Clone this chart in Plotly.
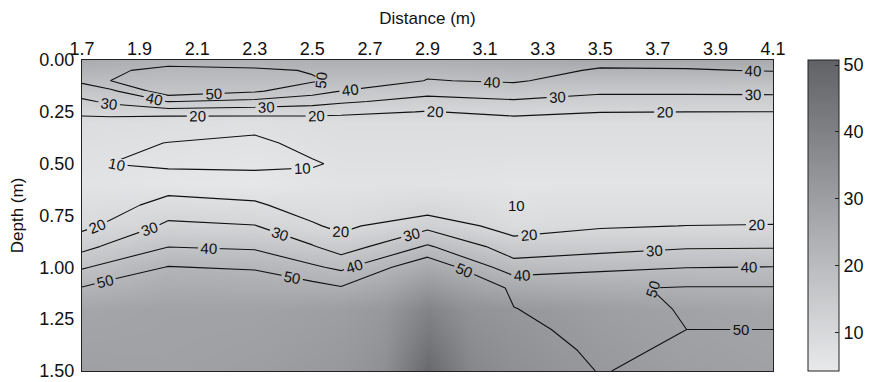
import plotly.graph_objects as go

# ---- contour data (field values on a rectilinear grid) ----
distance = [1.7, 1.8, 2.0, 2.3, 2.5, 2.6, 2.9, 3.2, 3.5, 3.8, 4.1]
depth = [0, 0.05, 0.1, 0.15, 0.2, 0.25, 0.3, 0.4, 0.5, 0.6, 0.7, 0.8, 0.9, 1.0, 1.1, 1.2, 1.3, 1.4, 1.5]

col_1_7 = [45, 44, 42, 34, 28.5, 22, 17, 12.5, 10.8, 11.5, 13.5, 17.5, 26.8, 39, 50.6, 52, 52.5, 53, 53]
col_1_8 = [46, 48, 50.05, 37.8, 31.5, 25.3, 14, 11, 9.98, 11, 15.5, 21.9, 32, 43, 54.7, 55, 55, 55, 55]
col_2_0 = [44.5, 53.7, 58, 56.7, 40.3, 25, 13, 9.9, 8.4, 14.8, 24.4, 31.9, 39.8, 50.5, 55, 56, 56, 56, 56]
col_2_3 = [43, 52, 56, 51.2, 37.5, 24.1, 13.9, 7.6, 7.8, 14.6, 21.4, 30.4, 38.4, 48.7, 58.7, 59, 59, 59, 59]
col_2_5 = [47.5, 49.3, 51, 44, 34, 24, 14, 13.3, 9.0, 14, 15.5, 21.1, 30.8, 41.6, 54, 56, 56, 56, 56]
col_2_6 = [46, 47.5, 48.5, 39.8, 31.5, 23, 14, 13, 11.5, 12.5, 15, 17.8, 24.8, 37.9, 51.0, 54, 55, 56, 56]
col_2_9 = [44, 42, 39.6, 33.3, 26.5, 19.5, 14, 12.5, 12, 12.5, 13.3, 27.2, 41.2, 58.5, 59, 59, 59, 59, 59]
col_3_2 = [45, 43, 41, 35.5, 28.8, 22.8, 16, 13, 12, 12, 13.5, 15.4, 24.7, 34.0, 49.0, 50.1, 51.15, 53.6, 55]
col_3_5 = [42.5, 39.2, 35.5, 31.5, 26.5, 20.3, 14, 12.5, 12, 12.5, 15, 19.1, 26.3, 37.6, 49.1, 48, 48.5, 48.7, 49.7]
col_3_8 = [42, 39.6, 36, 31.6, 26.5, 20, 14, 12.5, 12, 12.5, 15, 20.1, 28.9, 39.8, 50.65, 50.4, 50.0, 51, 51.95]
col_4_1 = [42, 40.3, 36.5, 31.8, 26.6, 19.9, 14, 12.5, 12, 12.5, 15, 20.4, 29.1, 40.3, 50.65, 50.4, 50.0, 51, 51.5]

value_columns = [col_1_7, col_1_8, col_2_0, col_2_3, col_2_5, col_2_6,
                 col_2_9, col_3_2, col_3_5, col_3_8, col_4_1]
z_values = [[col[i] for col in value_columns] for i in range(len(depth))]

# ---- background shading as read from the grey levels ----
shade_distance = [1.7, 2.0, 2.3, 2.6, 2.75, 2.9, 3.05, 3.2, 3.5, 3.8, 4.1]
shade_depth = [0, 0.15, 0.3, 0.6, 0.8, 1.0, 1.2, 1.5]
shade_0_00 = [25.5, 23.5, 23.5, 24.5, 24.5, 24.5, 25, 25.5, 26.5, 26.5, 25.5]
shade_0_15 = [16.5, 17, 17, 16, 15.8, 15.5, 15.8, 16, 15.5, 15.5, 15.5]
shade_0_30 = [8.5, 8, 7.5, 8.5, 8.5, 8.5, 8.5, 8.5, 8.5, 8.5, 8.5]
shade_0_60 = [6.5, 5.5, 5, 6.5, 6.5, 6.5, 6.3, 6, 6, 6, 6]
shade_0_80 = [9.5, 12, 11.5, 9.5, 11, 13, 11, 9, 9.5, 9.5, 9.5]
shade_1_00 = [17.5, 22.5, 22, 19.5, 22, 26, 23, 20, 19.5, 19.5, 19.5]
shade_1_20 = [27.5, 28.5, 28.5, 30, 32, 39, 34, 32.5, 30, 28.5, 27.5]
shade_1_50 = [29.5, 29, 30, 32, 35, 48.5, 38, 35, 32, 30, 29]
shade_rows = [shade_0_00, shade_0_15, shade_0_30, shade_0_60,
              shade_0_80, shade_1_00, shade_1_20, shade_1_50]

color_min = 4.3
color_max = 50.75
# drawn levels are 10..50; the level list runs on (to 690) only so that
# plotly spaces several labels along each line, levels above the data draw nothing
level_start = 10
level_step = 10
level_end = 690

x_ticks = [1.7, 1.9, 2.1, 2.3, 2.5, 2.7, 2.9, 3.1, 3.3, 3.5, 3.7, 3.9, 4.1]
x_tick_labels = ["1.7", "1.9", "2.1", "2.3", "2.5", "2.7", "2.9", "3.1", "3.3", "3.5", "3.7", "3.9", "4.1"]
y_ticks = [0, 0.25, 0.5, 0.75, 1.0, 1.25, 1.5]
y_tick_labels = ["0.00", "0.25", "0.50", "0.75", "1.00", "1.25", "1.50"]
cbar_ticks = [10, 20, 30, 40, 50]

FONT = "Liberation Sans, Arial, Helvetica, sans-serif"
grey_scale = [[0, "rgb(232,233,235)"], [1, "rgb(96,98,102)"]]

fig = go.Figure()
fig.add_trace(go.Heatmap(
    x=shade_distance, y=shade_depth, z=shade_rows,
    zsmooth="best", zmin=color_min, zmax=color_max,
    colorscale=grey_scale, hoverinfo="skip",
    colorbar=dict(
        x=1.0507, xanchor="left", xpad=0, ypad=0,
        y=0.5, yanchor="middle", len=1, lenmode="fraction",
        thickness=31, thicknessmode="pixels",
        outlinewidth=1, outlinecolor="#222",
        tickvals=cbar_ticks, ticks="inside", ticklen=4, tickcolor="#222",
        tickfont=dict(family=FONT, size=18, color="#111"),
    ),
))
fig.add_trace(go.Contour(
    x=distance, y=depth, z=z_values,
    autocontour=False,
    contours=dict(start=level_start, end=level_end, size=level_step,
                  coloring="none", showlabels=True,
                  labelfont=dict(family=FONT, size=15, color="#111")),
    line=dict(color="#111", width=1.1, smoothing=0),
    showscale=False, hoverinfo="skip",
))

fig.add_annotation(x=3.21, y=0.7, text="10", showarrow=False,
                   font=dict(family=FONT, size=15, color="#111"))

# the page body adds an 8 px margin, so the figure is 8 px smaller than the window
fig.update_layout(
    width=864, height=374,
    margin=dict(l=74, r=99, t=52, b=11, autoexpand=False),
    paper_bgcolor="white", plot_bgcolor="white",
    font=dict(family=FONT, color="#111"),
    showlegend=False,
    xaxis=dict(side="top", range=[1.7, 4.1], tickvals=x_ticks, ticktext=x_tick_labels,
               showgrid=False, zeroline=False, showline=True, mirror=True,
               linecolor="#222", linewidth=1, ticks="", automargin=False,
               ticklabelstandoff=-3,
               tickfont=dict(family=FONT, size=18, color="#111"),
               title=dict(text="Distance (m)", font=dict(family=FONT, size=17, color="#111"),
                          standoff=9)),
    yaxis=dict(range=[1.5, 0], tickvals=y_ticks, ticktext=y_tick_labels,
               showgrid=False, zeroline=False, showline=True, mirror=True,
               linecolor="#222", linewidth=1, ticks="", automargin=False,
               ticklabelstandoff=3,
               tickfont=dict(family=FONT, size=18, color="#111"),
               title=dict(text="Depth (m)", font=dict(family=FONT, size=17, color="#111"),
                          standoff=14)),
)

fig.write_html("out.html")
